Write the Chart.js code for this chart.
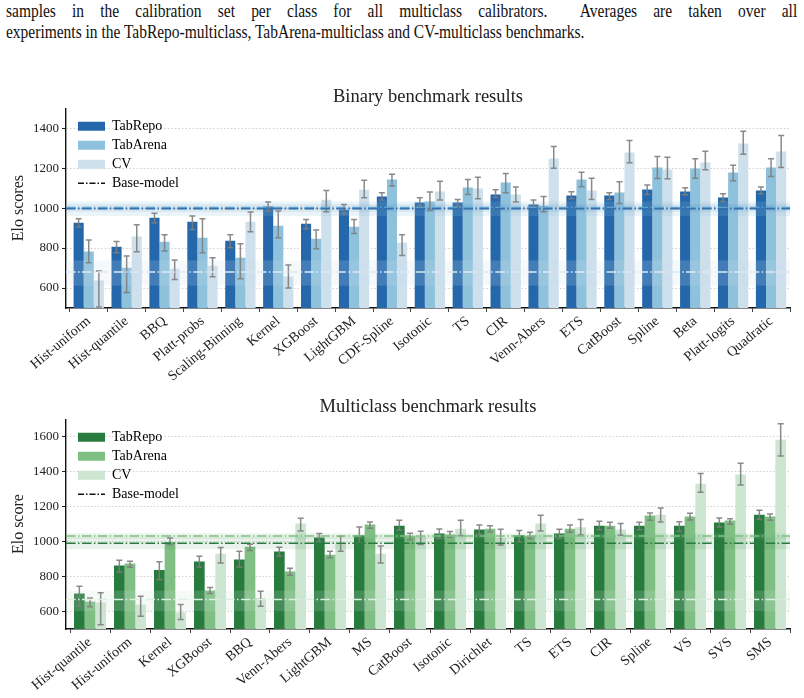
<!DOCTYPE html>
<html>
<head>
<meta charset="utf-8">
<script src="https://cdn.jsdelivr.net/npm/chart.js@4.4.1/dist/chart.umd.min.js"></script>
<style>
  body { margin: 0; width: 804px; height: 698px; background: #fff; position: relative; overflow: hidden; font-family: 'Liberation Serif', serif; }
  .cap { position: absolute; left: 6px; font-size: 18px; line-height: 21px; color: #111; transform: scaleX(0.86); transform-origin: 0 0; }
  #cap1 { top: 1px; width: 920px; text-align: justify; text-align-last: justify; }
  #cap2 { top: 22px; white-space: nowrap; }
  .box { position: absolute; left: 0; width: 804px; }
</style>
</head>
<body>
<div class="cap" id="cap1">samples in the calibration set per class for all multiclass calibrators. &nbsp;Averages are taken over all</div>
<div class="cap" id="cap2">experiments in the TabRepo-multiclass, TabArena-multiclass and CV-multiclass benchmarks.</div>
<div class="box" style="top:80px;height:310px"><canvas id="binary" width="804" height="310"></canvas></div>
<div class="box" style="top:390px;height:308px"><canvas id="multi" width="804" height="308"></canvas></div>
<script>
const FONT = "'Liberation Serif', serif";

// binary benchmark
const binCategories = ['Hist-uniform','Hist-quantile','BBQ','Platt-probs','Scaling-Binning','Kernel','XGBoost','LightGBM','CDF-Spline','Isotonic','TS','CIR','Venn-Abers','ETS','CatBoost','Spline','Beta','Platt-logits','Quadratic'];
const binTabRepo   = [927, 807, 952, 932, 837, 1008, 922, 992, 1058, 1028, 1028, 1068, 1018, 1063, 1063, 1093, 1083, 1053, 1088];
const binTabRepoLo = [905, 777, 927, 893, 802, 985, 897, 972, 1040, 1010, 1008, 1053, 1007, 1047, 1043, 1068, 1067, 1033, 1072];
const binTabRepoHi = [947, 833, 974, 960, 867, 1030, 943, 1018, 1077, 1052, 1043, 1092, 1040, 1082, 1077, 1115, 1102, 1072, 1105];
const binTabArena   = [783, 702, 832, 852, 752, 912, 847, 907, 1143, 1033, 1103, 1128, 1012, 1143, 1078, 1203, 1198, 1178, 1203];
const binTabArenaLo = [727, 577, 785, 777, 647, 852, 797, 873, 1110, 988, 1068, 1077, 982, 1107, 1023, 1148, 1150, 1137, 1158];
const binTabArenaHi = [840, 760, 867, 947, 822, 985, 890, 943, 1170, 1080, 1143, 1173, 1058, 1180, 1132, 1258, 1247, 1215, 1247];
const binCV   = [638, 858, 697, 712, 932, 658, 1042, 1092, 827, 1083, 1098, 1068, 1248, 1088, 1278, 1193, 1228, 1323, 1283];
const binCVLo = [505, 782, 643, 657, 882, 600, 982, 1052, 763, 1040, 1047, 1030, 1200, 1043, 1227, 1147, 1192, 1270, 1203];
const binCVHi = [685, 917, 740, 752, 980, 715, 1088, 1140, 867, 1135, 1155, 1105, 1308, 1150, 1338, 1255, 1285, 1385, 1363];
// base-model: TabRepo, TabArena, CV
const binBase   = [997, 1003, 680];
const binBaseLo = [980, 960, 612];
const binBaseHi = [1020, 1033, 738];
const binYTicks = [600, 800, 1000, 1200, 1400];

// multiclass benchmark
const mcCategories = ['Hist-quantile','Hist-uniform','Kernel','XGBoost','BBQ','Venn-Abers','LightGBM','MS','CatBoost','Isotonic','Dirichlet','TS','ETS','CIR','Spline','VS','SVS','SMS'];
const mcTabRepo   = [703, 863, 838, 886, 897, 943, 1023, 1036, 1091, 1046, 1069, 1036, 1046, 1091, 1091, 1091, 1109, 1154];
const mcTabRepoLo = [630, 825, 783, 855, 855, 916, 1000, 992, 1065, 1017, 1040, 998, 1017, 1067, 1067, 1059, 1084, 1126];
const mcTabRepoHi = [745, 893, 884, 916, 945, 968, 1046, 1084, 1122, 1072, 1095, 1063, 1070, 1116, 1110, 1114, 1135, 1179];
const mcTabArena   = [657, 874, 998, 720, 970, 829, 924, 1097, 1034, 1040, 1074, 1034, 1074, 1091, 1149, 1143, 1120, 1143];
const mcTabArenaLo = [627, 853, 983, 703, 949, 808, 907, 1076, 1010, 1025, 1055, 1017, 1053, 1076, 1122, 1124, 1099, 1122];
const mcTabArenaHi = [678, 888, 1021, 737, 985, 848, 945, 1112, 1048, 1057, 1091, 1053, 1095, 1110, 1164, 1162, 1131, 1158];
const mcCV   = [651, 640, 596, 931, 678, 1103, 992, 931, 1030, 1074, 1021, 1103, 1082, 1069, 1154, 1331, 1383, 1583];
const mcCVLo = [524, 573, 554, 878, 630, 1061, 945, 878, 983, 1034, 981, 1061, 1038, 1036, 1112, 1282, 1324, 1490];
const mcCVHi = [707, 688, 640, 966, 716, 1133, 1030, 975, 1059, 1122, 1070, 1150, 1126, 1103, 1192, 1390, 1448, 1674];
const mcBase   = [990, 1032, 669];
const mcBaseLo = [956, 1015, 602];
const mcBaseHi = [1025, 1047, 720];
const mcYTicks = [600, 800, 1000, 1200, 1400, 1600];

const seriesNames = ['TabRepo', 'TabArena', 'CV'];
const blues  = ['#2468ab', '#8ec1dc', '#cde0ec'];
const greens = ['#277b3d', '#7fbf84', '#cce6d1'];

function hexA(hex, a) {
    const n = parseInt(hex.slice(1), 16);
    return `rgba(${n >> 16},${(n >> 8) & 255},${n & 255},${a})`;
}

// bands, base lines and error bars, drawn over the bars
const overlayPlugin = {
    id: 'overlay',
    afterDatasetsDraw(chart, args, opts) {
        const {ctx, chartArea: a, scales: {y}} = chart;
        ctx.save();
        ctx.beginPath();
        ctx.rect(a.left, a.top, a.right - a.left, a.bottom - a.top);
        ctx.clip();

        opts.base.forEach((b, k) => {
            const y1 = y.getPixelForValue(opts.baseHi[k]);
            const y2 = y.getPixelForValue(opts.baseLo[k]);
            ctx.fillStyle = hexA(opts.colors[k], k == 0 ? 0.1 : 0.18);
            ctx.fillRect(a.left, y1, a.right - a.left, y2 - y1);
        });

        chart.data.datasets.forEach((ds, di) => {
            const meta = chart.getDatasetMeta(di);
            meta.data.forEach((bar, i) => {
                const yl = y.getPixelForValue(ds.errLo[i]);
                const yh = y.getPixelForValue(ds.errHi[i]);
                ctx.strokeStyle = 'rgba(125,125,125,0.9)';
                ctx.lineWidth = 1.5;
                ctx.beginPath();
                ctx.moveTo(bar.x, yl); ctx.lineTo(bar.x, yh);
                ctx.moveTo(bar.x - 3, yl); ctx.lineTo(bar.x + 3, yl);
                ctx.moveTo(bar.x - 3, yh); ctx.lineTo(bar.x + 3, yh);
                ctx.stroke();
            });
        });

        [2, 0, 1].forEach(k => {
            const yy = y.getPixelForValue(opts.base[k]);
            ctx.strokeStyle = opts.lineColors[k];
            ctx.lineWidth = 1.5;
            ctx.setLineDash([9.6, 2.4, 1.5, 2.4]);
            ctx.beginPath();
            ctx.moveTo(a.left, yy); ctx.lineTo(a.right, yy);
            ctx.stroke();
        });
        ctx.restore();
    }
};

// legend a little into the plot, title centred on the plot area
const placeBoxes = {
    id: 'placeBoxes',
    beforeDraw(chart) {
        const a = chart.chartArea;
        chart.legend.left = a.left + 7;
        chart.legend.top = a.top + 6;
        chart.titleBlock.left = a.left;
        chart.titleBlock.right = a.right;
        chart.titleBlock.width = a.right - a.left;
    }
};

function makeChart(id, opt) {
    const datasets = opt.values.map((vals, k) => ({
        label: seriesNames[k],
        data: vals.map((v, i) => ({x: i, y: v})),
        errLo: opt.lo[k],
        errHi: opt.hi[k],
        backgroundColor: opt.colors[k],
        borderWidth: 0,
        barPercentage: 1.0,
        categoryPercentage: 0.8
    }));

    new Chart(document.getElementById(id), {
        type: 'bar',
        data: { datasets: datasets },
        plugins: [overlayPlugin, placeBoxes],
        options: {
            responsive: false,
            animation: false,
            layout: { padding: { left: 0, right: 14, top: 0, bottom: 0 } },
            scales: {
                x: {
                    type: 'linear',
                    min: opt.xMin, max: opt.xMax,
                    offset: false,
                    afterBuildTicks: s => { s.ticks = opt.cats.map((c, i) => ({value: i})); },
                    afterFit: s => { s.height = opt.xHeight; },
                    ticks: {
                        callback: v => opt.cats[v],
                        autoSkip: false, minRotation: 40, maxRotation: 40,
                        font: { family: FONT, size: 14 }, color: '#222', padding: 1
                    },
                    grid: { drawOnChartArea: false, drawTicks: true, tickLength: 4, tickColor: '#444', tickWidth: 1 },
                    border: { color: '#111', width: 1.4 }
                },
                y: {
                    min: opt.yMin, max: opt.yMax,
                    afterBuildTicks: s => { s.ticks = opt.yTicks.map(v => ({value: v})); },
                    afterFit: s => { s.width = 66; },
                    ticks: { callback: v => String(v), font: { family: FONT, size: 13 }, color: '#222', padding: 3 },
                    grid: { color: '#c4c4c4', lineWidth: 0.8, tickLength: 4, tickColor: '#222', tickWidth: 1, tickBorderDash: [] },
                    border: { color: '#111', width: 1.4, dash: [1.5, 2] },
                    title: { display: true, text: opt.yTitle, font: { family: FONT, size: 16 }, color: '#222', padding: { top: 9, bottom: 0 } }
                }
            },
            plugins: {
                title: {
                    display: true, text: opt.title,
                    font: { family: FONT, size: 18.5, weight: 'normal' }, color: '#222',
                    padding: opt.titlePad
                },
                legend: {
                    position: 'chartArea',
                    align: 'start',
                    labels: {
                        usePointStyle: true, pointStyleWidth: 27, boxHeight: 9, padding: 5,
                        font: { family: FONT, size: 14 }, color: '#222',
                        generateLabels: chart => {
                            const items = chart.data.datasets.map((ds, i) => ({
                                text: ds.label, fillStyle: ds.backgroundColor, strokeStyle: ds.backgroundColor,
                                lineWidth: 0, pointStyle: 'rect', datasetIndex: i, hidden: false
                            }));
                            items.push({
                                text: 'Base-model', fillStyle: 'rgba(0,0,0,0)', strokeStyle: '#111',
                                lineWidth: 1.6, lineDash: [6, 2, 1.5, 2], pointStyle: 'line', hidden: false
                            });
                            return items;
                        }
                    }
                },
                tooltip: { enabled: false },
                overlay: {
                    base: opt.base, baseLo: opt.baseLo, baseHi: opt.baseHi,
                    colors: opt.colors, lineColors: opt.lineColors
                }
            }
        }
    });
}

makeChart('binary', {
    title: 'Binary benchmark results', yTitle: 'Elo scores',
    cats: binCategories,
    values: [binTabRepo, binTabArena, binCV],
    lo: [binTabRepoLo, binTabArenaLo, binCVLo],
    hi: [binTabRepoHi, binTabArenaHi, binCVHi],
    base: binBase, baseLo: binBaseLo, baseHi: binBaseHi,
    colors: blues, lineColors: ['#2a64a3', '#5d9fcf', '#dde9f2'],
    yMin: 500, yMax: 1500, yTicks: binYTicks,
    xMin: -0.6, xMax: 18.5, xHeight: 82,
    titlePad: { top: 6, bottom: 0 }
});

makeChart('multi', {
    title: 'Multiclass benchmark results', yTitle: 'Elo score',
    cats: mcCategories,
    values: [mcTabRepo, mcTabArena, mcCV],
    lo: [mcTabRepoLo, mcTabArenaLo, mcCVLo],
    hi: [mcTabRepoHi, mcTabArenaHi, mcCVHi],
    base: mcBase, baseLo: mcBaseLo, baseHi: mcBaseHi,
    colors: greens, lineColors: ['#277b3d', '#7fbf84', '#dcefe0'],
    yMin: 500, yMax: 1700, yTicks: mcYTicks,
    xMin: -0.6, xMax: 17.5, xHeight: 69,
    titlePad: { top: 6, bottom: 1 }
});
</script>
</body>
</html>
